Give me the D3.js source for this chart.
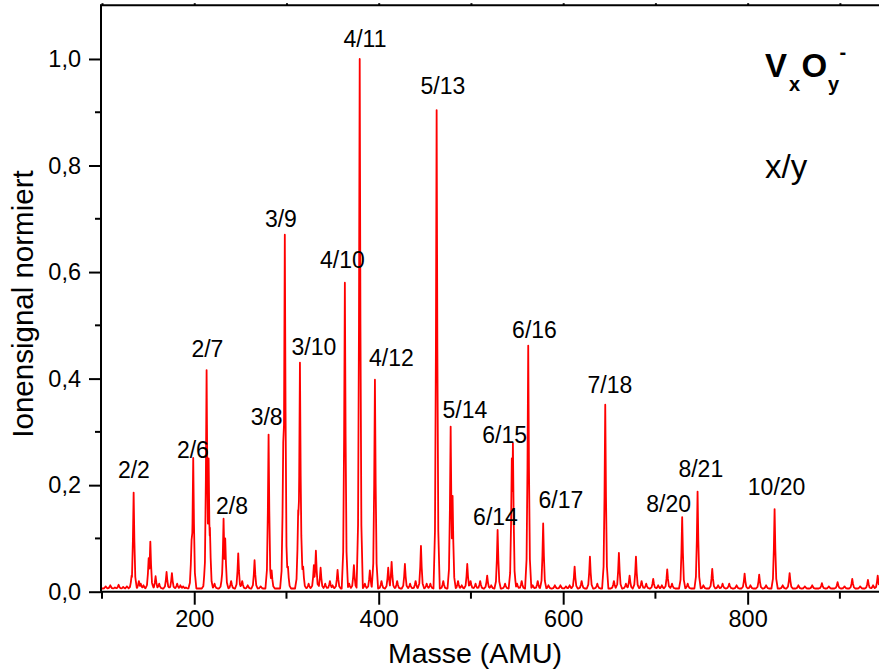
<!DOCTYPE html>
<html>
<head>
<meta charset="utf-8">
<script src="https://d3js.org/d3.v7.min.js"></script>
<style>
  body { margin: 0; background: #fff; }
  svg { display: block; font-family: "Liberation Sans", Arial, sans-serif; }
  .axis path, .axis line { stroke: #000; stroke-width: 2px; }
  .axis text { font-size: 23.5px; fill: #000; font-family: "Liberation Sans", Arial, sans-serif; }
  .spectrum { fill: none; stroke: #ff0000; stroke-width: 1.8px; stroke-linejoin: round; }
  .peak-label { font-size: 23px; text-anchor: middle; fill: #000; }
</style>
</head>
<body>
<svg id="chart" width="879" height="672"></svg>
<script>
  // peak positions (AMU) and normalised heights
  const peakMass = [
    104, 109, 114, 118, 123, 127, 132.1, 134.3, 140, 142, 145, 150.6, 152.4, 158.1, 162,
    170, 175.8, 181.5, 185, 188, 191, 197.1, 198.9, 211.6, 213.4, 215.6, 217, 222, 230.3,
    231.8, 233.6, 240, 247.7, 252, 258, 265.4, 272, 280.6, 283.9, 296.5, 298.2, 301.6,
    312.7, 314.6, 316.2, 318.1, 324, 329.7, 331.9, 337, 342, 347.1, 350, 355.4, 363.3,
    368, 373.1, 379.4, 385, 390.4, 395.9, 403, 410.3, 414, 420, 428.4, 434, 440, 445.8,
    452, 456, 462.8, 470, 478, 480.1, 486, 490, 496, 499.6, 505, 510, 517.6, 522,
    528.9, 537, 544.3, 545.5, 550, 555, 562.1, 567, 572.4, 578.3, 584, 591, 597, 603,
    607, 612.4, 620, 629, 637, 645.6, 655, 660.4, 668, 672, 678.9, 685, 690, 697.6, 703,
    707, 712.8, 718, 729, 735, 745.7, 752, 761.6, 768, 772.8, 780, 788, 796.7, 803,
    812.5, 820, 829.2, 838, 845.5, 855, 862, 870, 880.5, 888, 897.5, 905, 913.4, 922,
    930.4, 936, 941
  ];
  const peakHeight = [
    0.010, 0.012, 0.008, 0.013, 0.009, 0.010, 0.030, 0.186, 0.020, 0.015, 0.012, 0.063, 0.094, 0.029, 0.015,
    0.037, 0.035, 0.015, 0.012, 0.010, 0.008, 0.097, 0.251, 0.040, 0.416, 0.250, 0.120, 0.015, 0.035,
    0.137, 0.100, 0.020, 0.072, 0.020, 0.012, 0.059, 0.010, 0.295, 0.040, 0.280, 0.670, 0.047,
    0.153, 0.430, 0.100, 0.047, 0.015, 0.050, 0.077, 0.045, 0.015, 0.020, 0.012, 0.041, 0.580,
    0.015, 0.050, 1.000, 0.015, 0.040, 0.398, 0.020, 0.045, 0.056, 0.020, 0.052, 0.015, 0.020, 0.086,
    0.015, 0.015, 0.904, 0.020, 0.310, 0.180, 0.020, 0.012, 0.052, 0.020, 0.015, 0.020, 0.030, 0.012,
    0.116, 0.015, 0.250, 0.279, 0.015, 0.020, 0.462, 0.012, 0.020, 0.128, 0.012, 0.012, 0.012, 0.010,
    0.012, 0.047, 0.020, 0.066, 0.015, 0.351, 0.020, 0.073, 0.015, 0.030, 0.066, 0.020, 0.015, 0.024, 0.012,
    0.012, 0.042, 0.015, 0.140, 0.015, 0.188, 0.012, 0.043, 0.012, 0.015, 0.015, 0.012, 0.034, 0.012,
    0.032, 0.012, 0.155, 0.012, 0.035, 0.012, 0.010, 0.012, 0.016, 0.010, 0.018, 0.010, 0.024, 0.010,
    0.022, 0.012, 0.030
  ];
  const baselineLevel = 0.006;

  // cluster labels V(x)O(y): text, centre mass and baseline value
  const labelText = ["2/2", "2/6", "2/7", "2/8", "3/8", "3/9", "3/10", "4/10", "4/11", "4/12",
    "5/13", "5/14", "6/14", "6/15", "6/16", "6/17", "7/18", "8/20", "8/21", "10/20"];
  const labelMass = [134.6, 198.6, 214.3, 240.9, 278.5, 294.0, 329.8, 360.7, 385.1, 413.8,
    469.6, 493.5, 526.6, 536.5, 568.9, 597.6, 650.7, 714.4, 749.2, 831.4];
  const labelValue = [0.2135, 0.251, 0.441, 0.146, 0.313, 0.685, 0.444, 0.607, 1.023, 0.424,
    0.934, 0.326, 0.125, 0.279, 0.476, 0.157, 0.373, 0.150, 0.215, 0.1815];

  const xMajor = [200, 400, 600, 800];
  const xMinor = [100, 300, 500, 700, 900];
  const yMajor = [0, 0.2, 0.4, 0.6, 0.8, 1.0];
  const yMinor = [0.1, 0.3, 0.5, 0.7, 0.9];

  const svg = d3.select("#chart");
  const x = d3.scaleLinear().domain([100, 942.4]).range([102, 879]);
  const y = d3.scaleLinear().domain([0, 1.1]).range([591.7, 5.7]);

  // peak profile: offsets in AMU and fraction of peak height
  const shapeOff = [-3.4, -1.8, -0.8, 0, 0.8, 1.8, 3.4];
  const shapeFrac = [0, 0.12, 0.5, 1, 0.5, 0.12, 0];

  function peakValue(p, m) {
    const d = m - peakMass[p];
    if (d <= shapeOff[0] || d >= shapeOff[shapeOff.length - 1]) return 0;
    for (let k = 0; k < shapeOff.length - 1; k++) {
      if (d >= shapeOff[k] && d <= shapeOff[k + 1]) {
        const t = (d - shapeOff[k]) / (shapeOff[k + 1] - shapeOff[k]);
        return shapeFrac[k] + t * (shapeFrac[k + 1] - shapeFrac[k]);
      }
    }
    return 0;
  }

  let stops = [100, 942.4];
  peakMass.forEach(m => shapeOff.forEach(o => stops.push(m + o)));
  stops = stops.filter(m => m >= 100 && m <= 942.4).sort((a, b) => a - b);
  const points = stops.map(m => {
    let v = baselineLevel;
    peakMass.forEach((pm, i) => {
      const f = peakValue(i, m);
      if (f > 0) v = Math.max(v, baselineLevel + f * (peakHeight[i] - baselineLevel));
    });
    return [m, v];
  });

  svg.append("defs").append("clipPath").attr("id", "plot-clip")
    .append("rect").attr("x", 102).attr("y", 0).attr("width", 777).attr("height", 592);

  svg.append("path")
    .datum(points)
    .attr("class", "spectrum")
    .attr("clip-path", "url(#plot-clip)")
    .attr("d", d3.line().x(d => x(d[0])).y(d => y(d[1])));

  const fmt = d3.formatLocale({ decimal: ",", thousands: ".", grouping: [3], currency: ["", ""] }).format(".1f");

  // bottom axis
  const gx = svg.append("g").attr("class", "axis").attr("transform", "translate(0,591.7)")
    .call(d3.axisBottom(x).tickValues(xMajor).tickSize(13).tickPadding(6).tickFormat(d3.format("d")));
  gx.select(".domain").attr("d", "M101,0H879");
  gx.append("g").selectAll("line").data(xMinor).join("line")
    .attr("x1", d => x(d)).attr("x2", d => x(d)).attr("y1", 0).attr("y2", 7)
    .attr("stroke", "#000").attr("stroke-width", 2);

  // left axis
  const gy = svg.append("g").attr("class", "axis").attr("transform", "translate(101,0)")
    .call(d3.axisLeft(y).tickValues(yMajor).tickSize(12).tickPadding(8).tickFormat(fmt));
  gy.select(".domain").attr("d", "M0,4.7V591.7");
  gy.append("g").selectAll("line").data(yMinor).join("line")
    .attr("x1", 0).attr("x2", -6).attr("y1", d => y(d)).attr("y2", d => y(d))
    .attr("stroke", "#000").attr("stroke-width", 2);

  // top frame
  const gt = svg.append("g").attr("class", "axis").attr("transform", "translate(0,5.2)")
    .call(d3.axisTop(x).tickValues(xMajor.concat(xMinor)).tickSize(2).tickFormat(""));
  gt.select(".domain").attr("d", "M100,0H879");

  // axis titles
  svg.append("text")
    .attr("x", 475).attr("y", 663)
    .attr("text-anchor", "middle")
    .attr("font-size", 28.5)
    .text("Masse (AMU)");

  svg.append("text")
    .attr("transform", "translate(33,304) rotate(-90)")
    .attr("text-anchor", "middle")
    .attr("font-size", 29.5)
    .text("Ionensignal normiert");

  // peak labels
  svg.append("g").selectAll("text").data(labelText).join("text")
    .attr("class", "peak-label")
    .attr("x", (d, i) => x(labelMass[i]))
    .attr("y", (d, i) => y(labelValue[i]))
    .text(d => d);

  // species annotation
  const species = svg.append("text").attr("font-weight", "bold").attr("fill", "#000");
  species.append("tspan").attr("x", 765).attr("y", 76.7).attr("font-size", 33).text("V");
  species.append("tspan").attr("x", 789).attr("y", 91).attr("font-size", 20).text("x");
  species.append("tspan").attr("x", 801.5).attr("y", 76.7).attr("font-size", 33).text("O");
  species.append("tspan").attr("x", 828).attr("y", 91).attr("font-size", 20).text("y");
  species.append("tspan").attr("x", 839.5).attr("y", 58.5).attr("font-size", 20).text("-");

  svg.append("text")
    .attr("x", 765).attr("y", 178)
    .attr("font-size", 33)
    .text("x/y");
</script>
</body>
</html>
